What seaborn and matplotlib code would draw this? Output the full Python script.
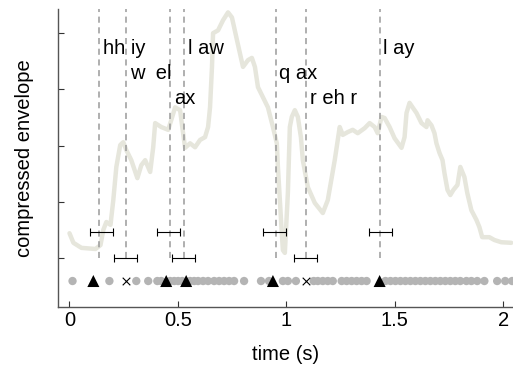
import numpy as np
import pandas as pd
import seaborn as sns
import matplotlib.pyplot as plt

# compressed envelope
env_t = [0.000, 0.018, 0.055, 0.120, 0.143, 0.156, 0.170, 0.189, 0.202, 0.216,
         0.234, 0.248, 0.262, 0.285, 0.313, 0.331, 0.349, 0.372, 0.386, 0.395,
         0.423, 0.455, 0.469, 0.487, 0.510, 0.520, 0.533, 0.556, 0.579, 0.602,
         0.625, 0.639, 0.648, 0.657, 0.662, 0.685, 0.708, 0.731, 0.749, 0.772,
         0.786, 0.800, 0.823, 0.841, 0.855, 0.869, 0.892, 0.915, 0.938, 0.956,
         0.961, 0.970, 0.979, 0.984, 0.993, 1.007, 1.016, 1.025, 1.039, 1.053,
         1.067, 1.076, 1.099, 1.131, 1.168, 1.191, 1.223, 1.246, 1.260, 1.283,
         1.306, 1.329, 1.361, 1.384, 1.407, 1.421, 1.439, 1.453, 1.476, 1.499,
         1.531, 1.545, 1.554, 1.568, 1.582, 1.600, 1.623, 1.646, 1.651, 1.669,
         1.683, 1.692, 1.706, 1.720, 1.729, 1.743, 1.756, 1.770, 1.789, 1.802,
         1.821, 1.834, 1.853, 1.876, 1.890, 1.903, 1.936, 1.959, 1.991, 2.037]
env_y = [0.44, 0.27, 0.18, 0.16, 0.23, 0.50, 0.64, 0.59, 1.03, 1.62,
         2.01, 2.06, 1.92, 1.74, 1.42, 1.65, 1.74, 1.53, 1.97, 2.40,
         2.33, 2.28, 2.45, 2.68, 2.63, 2.33, 1.96, 2.04, 1.97, 2.10,
         2.15, 2.33, 2.68, 3.40, 4.00, 4.05, 4.23, 4.37, 4.28, 3.88,
         3.64, 3.40, 3.52, 3.56, 3.40, 3.04, 2.86, 2.68, 2.33, 2.04,
         1.62, 1.03, 0.44, 0.14, 0.09, 1.16, 2.33, 2.51, 2.63, 2.51,
         2.15, 1.74, 1.26, 0.98, 0.80, 1.03, 1.74, 2.33, 2.19, 2.24,
         2.28, 2.22, 2.31, 2.40, 2.33, 2.22, 2.51, 2.49, 2.33, 2.13,
         1.96, 2.15, 2.58, 2.76, 2.68, 2.58, 2.40, 2.33, 2.45, 2.36,
         2.22, 2.04, 1.87, 1.74, 1.51, 1.21, 1.12, 1.21, 1.30, 1.62,
         1.44, 1.16, 0.85, 0.68, 0.55, 0.37, 0.37, 0.32, 0.28, 0.27]

# word boundaries and labels
bounds = [0.138, 0.262, 0.464, 0.529, 0.950, 1.090, 1.430]
words = ["hh iy", "w  el", "ax", "l aw", "q ax", "r eh r", "l ay"]
word_y = [3.73, 3.29, 2.84, 3.73, 3.29, 2.84, 3.73]

# estimated boundaries with tolerance
est_t = [0.149, 0.258, 0.457, 0.525, 0.945, 1.088, 1.435]
est_y = [0.47, 0.0, 0.47, 0.0, 0.47, 0.0, 0.47]
tol = 0.053

# candidate points, hits and misses
cand_t = [0.014, 0.184, 0.308, 0.363, 0.405, 0.423, 0.464, 0.483, 0.501, 0.520,
          0.556, 0.575, 0.593, 0.616, 0.639, 0.667, 0.690, 0.713, 0.736, 0.759,
          0.805, 0.883, 0.920, 0.984, 1.007, 1.044, 1.126, 1.145, 1.168, 1.191,
          1.214, 1.255, 1.278, 1.301, 1.324, 1.347, 1.370, 1.457, 1.480, 1.503,
          1.526, 1.549, 1.572, 1.595, 1.618, 1.641, 1.664, 1.687, 1.710, 1.733,
          1.756, 1.779, 1.802, 1.830, 1.853, 1.880, 1.913, 1.972, 2.009, 2.041]
hit_t = [0.110, 0.446, 0.538, 0.938, 1.430]
miss_t = [0.262, 1.090]
row_y = -0.41

sns.set_style("white")
plt.rcParams['font.family'] = ['Liberation Sans', 'DejaVu Sans']
plt.rcParams['text.color'] = 'black'
plt.rcParams['axes.labelcolor'] = 'black'
plt.rcParams['xtick.color'] = 'black'
plt.rcParams['ytick.color'] = 'black'
fs = 14.5

fig = plt.figure(figsize=(5.13, 3.69), dpi=100)
ax = fig.add_axes([58 / 513, 1 - 306.7 / 369, 1 - 58 / 513, (306.7 - 9) / 369])

sns.lineplot(x=env_t, y=env_y, ax=ax, color="#e6e6dc", linewidth=3.2, zorder=1)
ax.vlines(bounds, 0, 4.6, colors="#9a9a9a", linestyles=(0, (4, 3)), linewidth=1.1, zorder=2)
for t, w, y in zip(bounds, words, word_y):
    ax.text(t + 0.017, y, w, va="center", ha="left", fontsize=fs, color="black", zorder=3)

ax.errorbar(est_t, est_y, xerr=tol, fmt="none", ecolor="black",
            elinewidth=0.8, capsize=3.2, capthick=0.8, zorder=3)

df_c = pd.DataFrame({"t": cand_t, "y": row_y})
sns.scatterplot(data=df_c, x="t", y="y", ax=ax, color="#b4b4b4", s=36,
                edgecolor="none", zorder=3)
sns.scatterplot(x=hit_t, y=[row_y] * len(hit_t), ax=ax, marker="^", color="black",
                s=75, edgecolor="none", zorder=4)
sns.scatterplot(x=miss_t, y=[row_y] * len(miss_t), ax=ax, marker="x", color="black",
                s=30, linewidth=0.8, zorder=4)

ax.set_xlim(-0.053, 2.045)
ax.set_ylim(-0.867, 4.43)
ax.set_xticks([0, 0.5, 1, 1.5, 2])
ax.set_xticklabels(["0", "0.5", "1", "1.5", "2"])
ax.set_yticks([0, 1, 2, 3, 4])
ax.set_yticklabels([])
ax.tick_params(bottom=True, left=True, direction="in", length=4, width=0.8,
               color="#333333", labelsize=fs, pad=3)
for s in ["top", "right"]:
    ax.spines[s].set_visible(False)
for s in ["left", "bottom"]:
    ax.spines[s].set_color("#555555")
    ax.spines[s].set_linewidth(1.0)
ax.set_xlabel("time (s)", fontsize=fs, labelpad=11)
ax.set_ylabel("compressed envelope", fontsize=fs, labelpad=14)

fig.savefig("out.png", dpi=100)
